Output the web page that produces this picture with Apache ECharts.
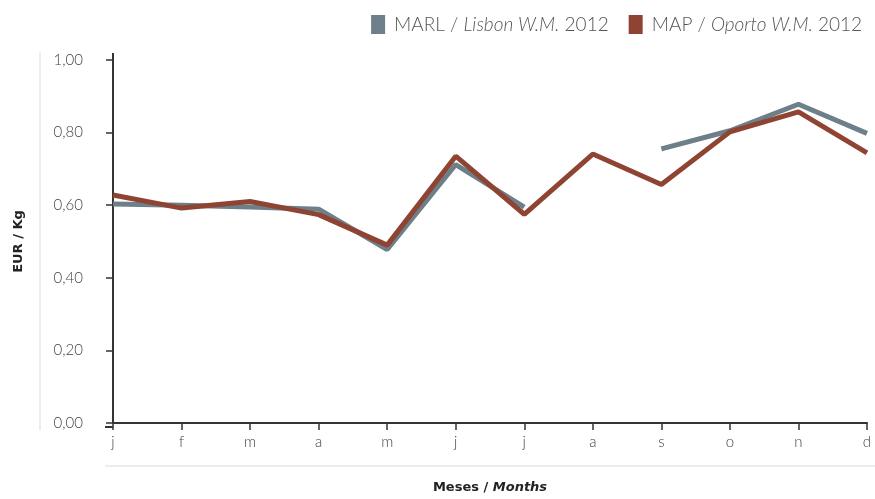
<!DOCTYPE html>
<html><head><meta charset="utf-8">
<script src="https://cdn.jsdelivr.net/npm/echarts@6/dist/echarts.min.js"></script>
<style>html,body{margin:0;padding:0;background:#fff}#c{width:875px;height:499px}</style>
</head><body><div id="c"></div>
<script>
const months = ['j','f','m','a','m','j','j','a','s','o','n','d'];
const yTicks = [0, 0.2, 0.4, 0.6, 0.8, 1.0];
const marl = [0.603, 0.600, 0.595, 0.589, 0.478, 0.712, 0.595, null, 0.755, 0.805, 0.878, 0.798];
const map = [0.628, 0.592, 0.610, 0.574, 0.490, 0.735, 0.575, 0.741, 0.657, 0.802, 0.857, 0.744];
const seriesNames = ['MARL / Lisbon W.M. 2012', 'MAP / Oporto W.M. 2012'];

const FONT = 'Lato';
const BOLD = 'DejaVu Sans';
const chart = echarts.init(document.getElementById('c'));
chart.setOption({
  animation: false,
  textStyle: { fontFamily: FONT },
  color: ['#6d7f88', '#8f4433'],
  legend: {
    right: 8, top: 10,
    itemWidth: 14, itemHeight: 19, itemGap: 20,
    icon: 'rect',
    data: seriesNames,
    formatter: function (n) {
      const p = n.split(' / ');
      const q = p[1].split(' 2012');
      return p[0] + ' / {i|' + q[0] + '} 2012';
    },
    textStyle: {
      fontFamily: FONT, fontSize: 19, color: '#555', fontWeight: 300, padding: [0, 0, 0, 4],
      rich: { i: { fontStyle: 'italic', fontFamily: FONT, fontSize: 19, color: '#555', fontWeight: 300 } }
    }
  },
  grid: { left: 113, right: 8, top: 60, bottom: 72, containLabel: false },
  xAxis: {
    type: 'category', data: months, boundaryGap: false,
    axisLine: { lineStyle: { color: '#333', width: 2 } },
    axisTick: { alignWithLabel: true, length: 7, lineStyle: { color: '#333', width: 1.5 } },
    axisLabel: { color: '#444', fontSize: 15, margin: 12, fontFamily: FONT, fontWeight: 300 },
    name: '{a|Meses / }{b|Months}', nameLocation: 'middle', nameGap: 58,
    nameTextStyle: { rich: {
      a: { fontWeight: 'bold', fontSize: 13, color: '#222', fontFamily: BOLD },
      b: { fontWeight: 'bold', fontStyle: 'italic', fontSize: 13, color: '#222', fontFamily: BOLD }
    } }
  },
  yAxis: {
    type: 'value', min: 0, max: 1, interval: 0.2,
    axisLine: { show: true, lineStyle: { color: '#333', width: 2 } },
    axisTick: { show: true, length: 7, lineStyle: { color: '#333', width: 1.5 } },
    splitLine: { show: false },
    axisLabel: { color: '#444', fontSize: 15, margin: 30, fontFamily: FONT, fontWeight: 300,
      formatter: v => v.toFixed(2).replace('.', ',') },
    name: 'EUR / Kg', nameLocation: 'middle', nameGap: 88,
    nameTextStyle: { fontWeight: 'bold', fontSize: 13, color: '#222', fontFamily: BOLD }
  },
  graphic: [
    { type: 'line', shape: { x1: 40, y1: 52, x2: 40, y2: 430 }, style: { stroke: '#e6e6e6', lineWidth: 1.5 }, silent: true },
    { type: 'line', shape: { x1: 105, y1: 466, x2: 875, y2: 466 }, style: { stroke: '#e6e6e6', lineWidth: 1.5 }, silent: true },
    { type: 'line', shape: { x1: 113, y1: 53, x2: 113, y2: 60 }, style: { stroke: '#333', lineWidth: 2 }, silent: true },
    { type: 'line', shape: { x1: 105, y1: 427, x2: 113, y2: 427 }, style: { stroke: '#333', lineWidth: 2 }, silent: true }
  ],
  series: [
    { name: seriesNames[0], type: 'line', data: marl, symbol: 'none', connectNulls: false,
      lineStyle: { width: 5, color: '#6d7f88' } },
    { name: seriesNames[1], type: 'line', data: map, symbol: 'none',
      lineStyle: { width: 5, color: '#8f4433' } }
  ]
});
</script></body></html>
